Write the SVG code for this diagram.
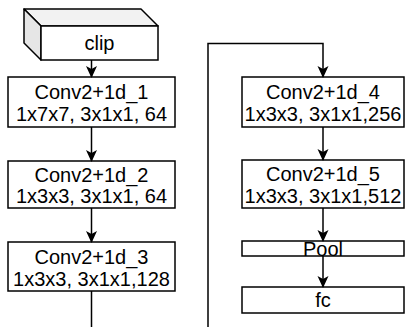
<svg xmlns="http://www.w3.org/2000/svg" width="407" height="327" viewBox="0 0 407 327">
  <style>
    .box { fill: #ffffff; stroke: #000000; stroke-width: 1.5; }
    .side { fill: #e6e6e6; stroke: #000000; stroke-width: 1.5; stroke-linejoin: round; }
    .top { fill: #f2f2f2; stroke: #000000; stroke-width: 1.5; stroke-linejoin: round; }
    .lbl { font-family: "Liberation Sans", Arial, Helvetica, sans-serif; font-size: 20px; fill: #000000; text-anchor: middle; }
    .edge { fill: none; stroke: #000000; stroke-width: 1.5; }
  </style>
  <defs>
    <marker id="arrow" viewBox="0 0 12 12" refX="11" refY="6" markerWidth="12" markerHeight="12" markerUnits="userSpaceOnUse" orient="auto">
      <path d="M0,0.5 L12,6 L0,11.5 L3,6 Z" fill="#000000"/>
    </marker>
  </defs>
  <rect width="407" height="327" fill="#ffffff"/>

  <!-- input clip drawn as a cube -->
  <g id="clip">
    <path class="top" d="M24,9 L141,9 L158,26 L41,26 Z"/>
    <path class="side" d="M24,9 L41,26 L41,60 L24,43 Z"/>
    <rect class="box" x="41" y="26" width="117" height="34"/>
    <text class="lbl" x="99.5" y="50">clip</text>
  </g>

  <g id="conv1">
    <rect class="box" x="8" y="77" width="167" height="50"/>
    <text class="lbl" x="91.5" y="99">Conv2+1d_1</text>
    <text class="lbl" x="91.5" y="121">1x7x7, 3x1x1, 64</text>
  </g>

  <g id="conv2">
    <rect class="box" x="8" y="161" width="167" height="47"/>
    <text class="lbl" x="91.5" y="182">Conv2+1d_2</text>
    <text class="lbl" x="91.5" y="203">1x3x3, 3x1x1, 64</text>
  </g>

  <g id="conv3">
    <rect class="box" x="8" y="242" width="167" height="49"/>
    <text class="lbl" x="91.5" y="264">Conv2+1d_3</text>
    <text class="lbl" x="91.5" y="286">1x3x3, 3x1x1,128</text>
  </g>

  <g id="conv4">
    <rect class="box" x="242" y="77" width="162" height="50"/>
    <text class="lbl" x="323" y="99">Conv2+1d_4</text>
    <text class="lbl" x="323" y="121">1x3x3, 3x1x1,256</text>
  </g>

  <g id="conv5">
    <rect class="box" x="242" y="160" width="162" height="48"/>
    <text class="lbl" x="323" y="181">Conv2+1d_5</text>
    <text class="lbl" x="323" y="203">1x3x3, 3x1x1,512</text>
  </g>

  <g id="pool">
    <rect class="box" x="242" y="241" width="162" height="15"/>
    <text class="lbl" x="323" y="256">Pool</text>
  </g>

  <g id="fc">
    <rect class="box" x="242" y="287" width="162" height="26"/>
    <text class="lbl" x="323" y="307">fc</text>
  </g>

  <g id="connectors">
    <path class="edge" d="M91.5,60 L91.5,77" marker-end="url(#arrow)"/>
    <path class="edge" d="M91.5,127 L91.5,161" marker-end="url(#arrow)"/>
    <path class="edge" d="M91.5,208 L91.5,242" marker-end="url(#arrow)"/>
    <path class="edge" d="M91.5,291 L91.5,340 L208,340 L208,43.5 L323,43.5 L323,77" marker-end="url(#arrow)"/>
    <path class="edge" d="M323,127 L323,160" marker-end="url(#arrow)"/>
    <path class="edge" d="M323,208 L323,241" marker-end="url(#arrow)"/>
    <path class="edge" d="M323,256 L323,287" marker-end="url(#arrow)"/>
  </g>
</svg>
